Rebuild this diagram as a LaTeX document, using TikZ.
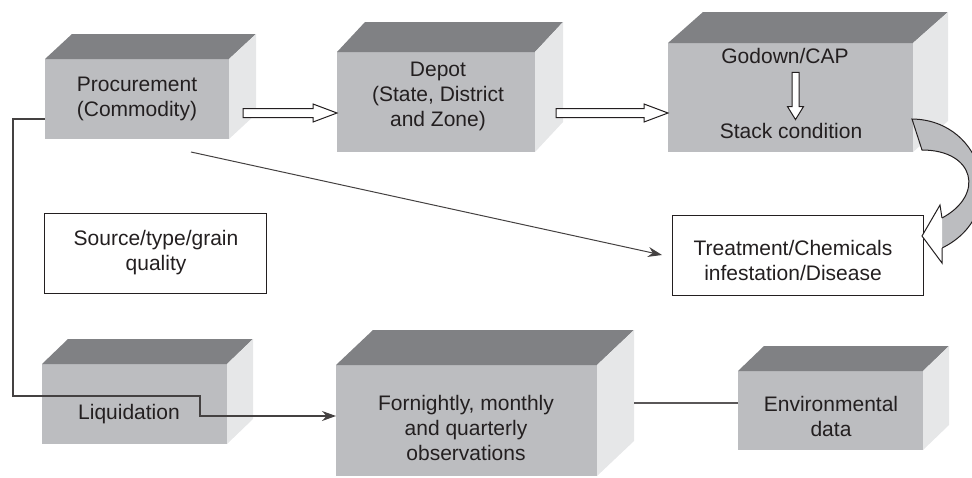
\documentclass[tikz,border=0pt]{standalone}
\usepackage{fontspec}
\setmainfont{Liberation Sans}
\usetikzlibrary{calc,arrows.meta}
\definecolor{frontc}{HTML}{BCBDC0}
\definecolor{topc}{HTML}{808184}
\definecolor{sidec}{HTML}{E6E7E8}
\definecolor{ink}{HTML}{231F20}
\newcommand\mkcube[3]{%
 \fill[topc] (#1.north west) -- ($(#1.north west)+(#2,-#3)$) -- ($(#1.north east)+(#2,-#3)$) -- (#1.north east) -- cycle;
 \fill[sidec] (#1.north east) -- ($(#1.north east)+(#2,-#3)$) -- ($(#1.south east)+(#2,-#3)$) -- (#1.south east) -- cycle;}
\newcommand\harrow[2]{\draw[hol] let \p1=(#1), \p2=(#2) in
 (\x1,\y1+4.5pt) -- (\x2-24pt,\y1+4.5pt) -- (\x2-24pt,\y1+9pt) -- (\x2,\y1) -- (\x2-24pt,\y1-9pt) -- (\x2-24pt,\y1-4.5pt) -- (\x1,\y1-4.5pt) -- cycle;}
\newcommand\varrow[2]{\draw[hol] let \p1=(#1), \p2=(#2) in
 (\x1-3.5pt,\y1) -- (\x1-3.5pt,\y2+13pt) -- (\x1-8pt,\y2+13pt) -- (\x1,\y2) -- (\x1+8pt,\y2+13pt) -- (\x1+3.5pt,\y2+13pt) -- (\x1+3.5pt,\y1) -- cycle;}
\begin{document}
\begin{tikzpicture}[x=1pt,y=-1pt,
  front/.style={fill=frontc, inner sep=0, outer sep=0},
  plain/.style={draw=ink, line width=1pt, fill=white, inner sep=0, outer sep=0},
  txt/.style={font=\fontsize{21}{25}\selectfont, text=ink, align=center, inner sep=0},
  hol/.style={draw=ink, line width=1pt, fill=white, line join=miter},
  conn/.style={draw=ink!85, line width=1.2pt},
  tip/.style={-{Stealth[length=14pt,width=10pt]}}]
\useasboundingbox (0,0) rectangle (972,477);
% cuboid front faces
\node[front, minimum width=184pt, minimum height=80pt] (proc) at (137,99) {};
\node[front, minimum width=198pt, minimum height=100pt] (depot) at (436,102) {};
\node[front, minimum width=245pt, minimum height=109pt] (godown) at (790.5,97.5) {};
\node[front, minimum width=185pt, minimum height=80pt] (liq) at (134.5,404) {};
\node[front, minimum width=261pt, minimum height=111pt] (fort) at (466.5,420.5) {};
\node[front, minimum width=185pt, minimum height=79pt] (env) at (830.5,410.5) {};
\mkcube{proc}{27}{25}
\mkcube{depot}{28}{30}
\mkcube{godown}{35}{31}
\mkcube{liq}{26}{25}
\mkcube{fort}{37}{35}
\mkcube{env}{26}{25}
% plain boxes
\node[plain, minimum width=251pt, minimum height=80pt] (treat) at (797.5,255) {};
\node[plain, minimum width=222pt, minimum height=80pt] (source) at (155,253) {};
% texts
\node[txt] (proct) at (137,98.5) {Procurement\\(Commodity)};
\node[txt] (depott) at (438,96.5) {Depot\\(State, District\\and Zone)};
\node[txt] (gd1) at (785,56) {Godown/CAP};
\node[txt] (gd2) at (791,131) {Stack condition};
\node[txt] (treatt) at (793,260) {Treatment/Chemicals\\infestation/Disease};
\node[txt] (sourcet) at (156,252.5) {Source/type/grain\\quality};
\node[txt] (liqt) at (129,414) {Liquidation};
\node[txt] (fortt) at (466,428) {Fornightly, monthly\\and quarterly\\observations};
\node[txt] (envt) at (831,416) {Environmental\\data};
% hollow arrows
\harrow{$(proc.east)+(14,14)$}{$(depot.west)+(0,11)$}
\harrow{$(depot.east)+(21,11)$}{$(godown.west)+(0,15.5)$}
\varrow{$(gd1.south)+(10.5,8.5)$}{$(gd2.north)+(4.5,-3.5)$}
% curved band arrow from godown to treatment
\fill[frontc] (912,119) .. controls (985,120) and (1010,215) .. (942,248) -- (942,218) .. controls (985,195) and (975,150) .. (922,150) -- cycle;
\draw[ink, line width=1pt] (942,248) .. controls (1010,215) and (985,120) .. (912,119) -- (922,150) .. controls (975,150) and (985,195) .. (942,218);
\fill[white] (942,218) -- (940,205) -- (922,236) -- (942,263) -- (942,248) -- cycle;
\draw[ink, line width=1pt, line join=miter] (942,218) -- (940,205) -- (922,236) -- (942,263) -- (942,248);
% connectors
\draw[conn, line width=1pt, tip] ($(proc.south)+(54,13)$) -- ($(treat.west)+(-10,0)$);
\coordinate (k1) at ($(liq.north)+(65.5,32)$);
\draw[conn, tip] ($(proc.west)+(0,20)$) -- ++(-32,0) |- (k1) |- ($(fort.west)+(0,-4.5)$);
\draw[draw=ink!75, line width=1.5pt] ($(fort.east)+(37,-17.5)$) -- ($(env.west)+(0,-7.5)$);
\end{tikzpicture}
\end{document}
